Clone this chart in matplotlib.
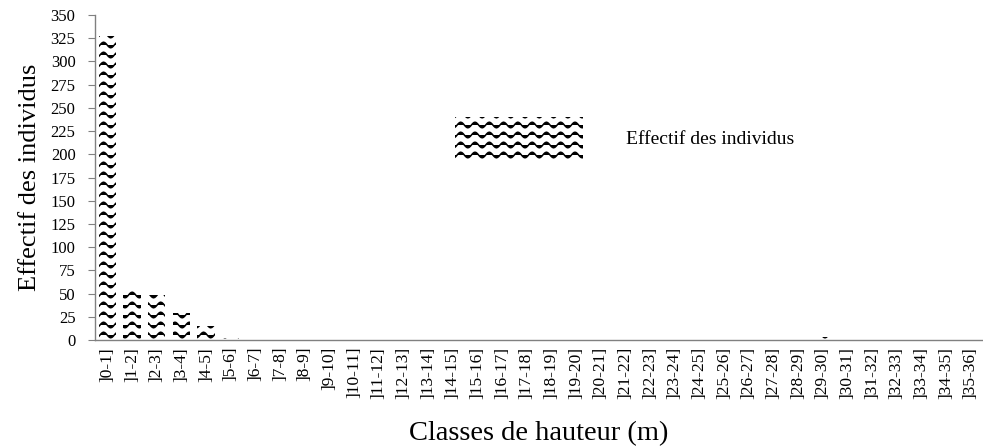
import warnings
import numpy as np
import matplotlib
matplotlib.use("Agg")
import matplotlib.pyplot as plt
from matplotlib import hatch as mhatch
from matplotlib.path import Path

warnings.filterwarnings("ignore")

classes = [f"]{i}-{i+1}]" for i in range(36)]
effectifs = [327, 55, 49, 29, 15, 2, 0, 0, 0, 0, 0, 0, 0, 0, 0, 0, 0, 0,
             0, 0, 0, 0, 0, 0, 0, 0, 0, 0, 0, 3, 0, 0, 0, 0, 0, 1]


# wavy hatch, "~" in the hatch string
class WaveHatch(mhatch.HatchPatternBase):
    N_PTS = 85

    def __init__(self, hatch, density):
        self.num_rows = hatch.count("~") * 10
        self.num_vertices = self.num_rows * self.N_PTS

    def set_vertices_and_codes(self, vertices, codes):
        steps = np.linspace(0, 1, self.N_PTS)
        waves = 7
        amp = 0.028
        k = 0
        for r in range(self.num_rows):
            y0 = (r + 0.5) / self.num_rows
            for j, x in enumerate(steps):
                vertices[k] = (x, y0 + amp * np.sin(2 * np.pi * waves * x))
                codes[k] = Path.MOVETO if j == 0 else Path.LINETO
                k += 1


mhatch._hatch_types.append(WaveHatch)

plt.rcParams["font.family"] = ["Liberation Serif", "DejaVu Serif"]
plt.rcParams["hatch.linewidth"] = 1.1

fig = plt.figure(figsize=(9.83, 4.48), dpi=100)
ax = fig.add_axes([95 / 983, 1 - 340 / 448, 1 - 95 / 983, 325 / 448])

x = np.arange(len(classes))
ax.bar(x, effectifs, width=0.7, color="white", edgecolor="black",
       linewidth=0, hatch="~", label="Effectif des individus")

ax.set_xlim(-0.5, len(classes) - 0.5)
ax.set_ylim(0, 350)
ax.set_yticks(np.arange(0, 351, 25))
ax.set_xticks(x)
ax.set_xticklabels(classes, rotation=90, fontsize=12.5)
ax.tick_params(axis="x", length=0, pad=5)
ax.tick_params(axis="y", length=5, color="#808080", labelsize=12, pad=9)

for s in ["top", "right"]:
    ax.spines[s].set_visible(False)
for s in ["left", "bottom"]:
    ax.spines[s].set_color("#808080")
    ax.spines[s].set_linewidth(1)

ax.set_ylabel("Effectif des individus", fontsize=19, labelpad=7)
ax.set_xlabel("Classes de hauteur (m)", fontsize=20.5, labelpad=16)

fig.legend(loc="center left", bbox_to_anchor=(455 / 983, 1 - 138 / 448),
           frameon=False, fontsize=14, handlelength=6.6, handleheight=2.9,
           handletextpad=2.2, borderpad=0, borderaxespad=0)

fig.savefig("out.png", dpi=100)
